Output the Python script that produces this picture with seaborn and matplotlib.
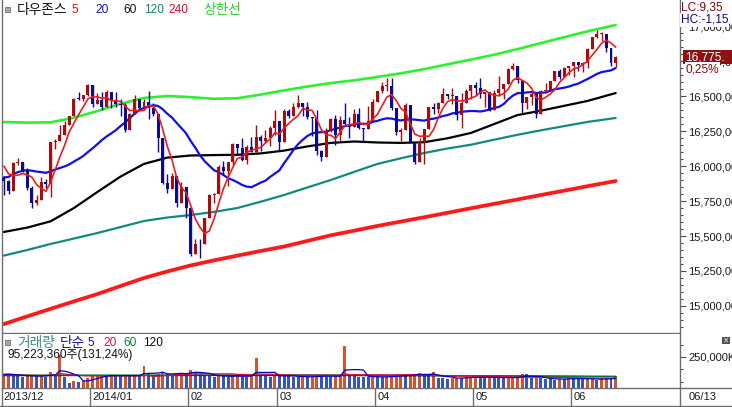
import numpy as np
import pandas as pd
import matplotlib
matplotlib.use("Agg")
import matplotlib.pyplot as plt
import seaborn as sns
from matplotlib.patches import Rectangle
from matplotlib.lines import Line2D
from matplotlib.ticker import MultipleLocator, FixedLocator, FuncFormatter

sns.set_theme(style="white")
plt.rcParams['font.family'] = ['Liberation Sans', 'Noto Sans CJK KR']

# ---------------- data ----------------
month_labels = ["2013/12", "2014/01", "02", "03", "04", "05", "06"]
month_start = [0, 19, 40, 59, 80, 101, 122]
last_date = "06/13"

opens = [15915, 15890, 15822, 16020, 16026, 15973, 15844, 15739, 15755, 15885, 15875, 16168, 16179, 16221, 16295, 16358, 16480, 16478, 16504,
         16577, 16441, 16470, 16425, 16531, 16463, 16445, 16437, 16258, 16374, 16482, 16417, 16459, 16414, 16373, 16197, 15879, 15838, 15929, 15739, 15849,
         15699, 15373, 15445, 15440, 15629, 15794, 15802, 15995, 15964, 16028, 16154, 16130, 16041, 16133, 16103, 16207, 16180, 16198, 16273,
         16322, 16168, 16396, 16360, 16422, 16453, 16419, 16351, 16340, 16109, 16066, 16247, 16336, 16222, 16331, 16303, 16277, 16368, 16269, 16264, 16323,
         16458, 16533, 16571, 16573, 16413, 16246, 16256, 16437, 16170, 16027, 16173, 16263, 16425, 16409, 16449, 16514, 16500, 16502, 16361, 16449, 16535,
         16581, 16559, 16513, 16531, 16401, 16519, 16551, 16583, 16695, 16715, 16614, 16447, 16491, 16512, 16374, 16533, 16543, 16606, 16676, 16633, 16699,
         16717, 16744, 16722, 16738, 16836, 16924, 16943, 16946, 16844, 16734]
highs = [15930, 15900, 16030, 16058, 16030, 15985, 15860, 15790, 15920, 15905, 16170, 16190, 16290, 16320, 16360, 16484, 16530, 16510, 16588,
         16577, 16518, 16532, 16545, 16531, 16529, 16480, 16450, 16378, 16505, 16482, 16480, 16539, 16453, 16373, 16197, 15941, 15950, 15929, 15886, 15849,
         15708, 15479, 15478, 15629, 15798, 15806, 16006, 16034, 16028, 16165, 16157, 16197, 16153, 16206, 16293, 16225, 16257, 16285, 16398,
         16322, 16406, 16406, 16450, 16505, 16453, 16460, 16351, 16403, 16117, 16275, 16341, 16364, 16354, 16452, 16350, 16404, 16414, 16271, 16428, 16478,
         16536, 16600, 16631, 16631, 16413, 16268, 16453, 16437, 16170, 16203, 16263, 16425, 16452, 16460, 16558, 16514, 16560, 16502, 16525, 16550, 16581,
         16598, 16632, 16531, 16531, 16545, 16645, 16584, 16701, 16736, 16715, 16614, 16491, 16531, 16512, 16543, 16590, 16610, 16676, 16695, 16706, 16717,
         16744, 16744, 16745, 16845, 16925, 16970, 16956, 16946, 16845, 16783]
lows = [15790, 15800, 15822, 16010, 15960, 15830, 15703, 15720, 15755, 15840, 15780, 16120, 16179, 16221, 16290, 16358, 16470, 16466, 16500,
        16420, 16440, 16400, 16425, 16416, 16421, 16356, 16245, 16258, 16374, 16408, 16398, 16334, 16355, 16103, 15873, 15805, 15838, 15707, 15739, 15632,
        15356, 15373, 15340, 15440, 15629, 15733, 15802, 15936, 15855, 16004, 16087, 16035, 16017, 16100, 16103, 16110, 16167, 16143, 16220,
        16104, 16168, 16340, 16360, 16412, 16357, 16335, 16212, 16082, 16034, 16066, 16240, 16151, 16169, 16290, 16198, 16277, 16262, 16174, 16264, 16323,
        16458, 16520, 16533, 16397, 16223, 16180, 16256, 16162, 16015, 16027, 16015, 16263, 16372, 16381, 16449, 16482, 16443, 16326, 16271, 16448, 16477,
        16508, 16486, 16424, 16392, 16401, 16503, 16480, 16583, 16683, 16592, 16377, 16404, 16437, 16344, 16374, 16520, 16543, 16606, 16625, 16633, 16651,
        16636, 16680, 16669, 16698, 16836, 16912, 16891, 16816, 16715, 16706]
closes = [15890, 15822, 16020, 16026, 15973, 15844, 15739, 15755, 15885, 15875, 16168, 16179, 16221, 16295, 16358, 16480, 16478, 16504, 16577,
          16441, 16470, 16425, 16531, 16463, 16445, 16437, 16258, 16374, 16482, 16417, 16459, 16414, 16373, 16197, 15879, 15838, 15929, 15739, 15849, 15699,
          15373, 15445, 15440, 15629, 15794, 15802, 15995, 15964, 16028, 16154, 16130, 16041, 16133, 16103, 16207, 16180, 16198, 16273, 16322,
          16168, 16396, 16360, 16422, 16453, 16419, 16351, 16340, 16109, 16066, 16247, 16336, 16222, 16331, 16303, 16277, 16368, 16269, 16264, 16323, 16458,
          16533, 16573, 16573, 16413, 16246, 16256, 16437, 16170, 16027, 16173, 16263, 16425, 16409, 16449, 16514, 16502, 16502, 16361, 16449, 16535, 16581,
          16559, 16513, 16531, 16401, 16519, 16551, 16583, 16695, 16715, 16614, 16447, 16491, 16512, 16374, 16533, 16543, 16606, 16676, 16633, 16699, 16717,
          16744, 16722, 16738, 16836, 16924, 16943, 16946, 16844, 16734, 16776]
# closes before the visible window (needed for the 5/20 day averages)
prior_closes = [15747, 15594, 15762, 15783, 15751, 15822, 15876, 15962, 15976, 15967,
                15901, 16010, 16065, 16073, 16073, 16097, 16086, 16009, 15915]

volumes_m = [110, 112, 105, 95, 92, 98, 100, 96, 100, 92, 130, 108, 265, 85, 42, 55, 48, 60, 78,
             95, 100, 104, 98, 102, 96, 94, 104, 100, 102, 96, 180, 112, 104, 110, 133, 112, 108, 116, 122, 118,
             145, 133, 110, 104, 98, 90, 100, 96, 92, 94, 100, 96, 92, 98, 242, 100, 95, 92, 104,
             102, 98, 94, 90, 88, 92, 90, 94, 100, 98, 92, 86, 96, 104, 339, 108, 96, 92, 90, 88, 94,
             90, 86, 92, 96, 100, 105, 98, 104, 112, 120, 100, 96, 130, 80, 78, 76, 80, 84, 82, 86, 88,
             90, 86, 84, 88, 86, 82, 80, 84, 86, 90, 112, 110, 78, 82, 80, 74, 70, 66, 76, 72, 82,
             78, 74, 70, 72, 76, 68, 72, 80, 73, 95]

line_idx = [0, 5, 10, 15, 20, 25, 30, 35, 40, 45, 50, 55, 60, 65, 70, 75, 80, 85, 90, 95, 100, 105, 110, 115, 120, 125, 131]
upper_band = [16314, 16310, 16312, 16345, 16392, 16445, 16486, 16500, 16492, 16480, 16484, 16510, 16540, 16568,
              16592, 16612, 16636, 16662, 16692, 16726, 16760, 16795, 16835, 16878, 16920, 16962, 17007]
ma60_line = [15529, 15560, 15605, 15700, 15814, 15925, 16015, 16060, 16075, 16078, 16080, 16090, 16110, 16140,
             16165, 16175, 16168, 16165, 16170, 16198, 16236, 16300, 16364, 16395, 16430, 16465, 16521]
ma120_line = [15360, 15400, 15443, 15482, 15521, 15564, 15607, 15632, 15650, 15672, 15700, 15745, 15793, 15847,
              15900, 15958, 16015, 16055, 16093, 16125, 16152, 16188, 16223, 16255, 16285, 16315, 16343]
ma240_line = [14871, 14926, 14980, 15033, 15085, 15143, 15200, 15247, 15290, 15326, 15360, 15393, 15425, 15465,
              15505, 15538, 15572, 15603, 15634, 15666, 15698, 15730, 15761, 15793, 15824, 15856, 15893]

vol_line_idx = [0, 33, 66, 99, 131]
vol_ma60 = [104, 104, 106, 100, 90]
vol_ma120 = [100, 101, 101, 98, 94]

# ---------------- figure ----------------
W, H = 732, 407
fig = plt.figure(figsize=(W / 100, H / 100), dpi=100)
fig.patch.set_facecolor("white")

def fx(x):
    return x / W

def fy(y):
    return 1 - y / H

def xi(x):
    return (x - 3.9) / 4.67

frame = "#6e6e6e"
ax = fig.add_axes([fx(2), fy(333), fx(680) - fx(2), fy(0) - fy(333)])
axv = fig.add_axes([fx(2), fy(388), fx(680) - fx(2), fy(334) - fy(388)])

n = len(closes)
idx = np.arange(n)
df = pd.DataFrame({"i": idx, "open": opens, "high": highs, "low": lows, "close": closes, "vol": volumes_m})

all_close = pd.Series(prior_closes + closes, dtype=float)
df["ma5"] = all_close.rolling(5).mean().iloc[len(prior_closes):].values
df["ma20"] = all_close.rolling(20).mean().iloc[len(prior_closes):].values

lines = pd.DataFrame({"i": line_idx, "upper": upper_band, "ma60": ma60_line,
                      "ma120": ma120_line, "ma240": ma240_line})

ymin = 15500 + (236 - 333) * 7.1429
ymax = 15500 + (236 - 0) * 7.1429
ax.set_xlim(xi(2), xi(680))
ax.set_ylim(ymin, ymax)

# moving average lines
sns.lineplot(data=lines, x="i", y="ma240", ax=ax, color="#ff1a1a", linewidth=2.7, zorder=2, estimator=None)
sns.lineplot(data=lines, x="i", y="ma120", ax=ax, color="#138a80", linewidth=1.6, zorder=2, estimator=None)
sns.lineplot(data=lines, x="i", y="ma60", ax=ax, color="#000000", linewidth=1.6, zorder=2, estimator=None)
sns.lineplot(data=lines, x="i", y="upper", ax=ax, color="#2ef02e", linewidth=1.9, zorder=2, estimator=None)
sns.lineplot(data=df, x="i", y="ma20", ax=ax, color="#1010ee", linewidth=1.6, zorder=2, estimator=None)

# candles
up = df["close"] >= df["open"]
red_c, blue_c = "#a80c0c", "#0a0a96"
colors = np.where(up, red_c, blue_c)
ax.vlines(df["i"], df["low"], df["high"], colors=colors, linewidth=1.0, zorder=3)
body_lo = np.minimum(df["open"], df["close"])
body_h = np.maximum(np.abs(df["close"] - df["open"]), 5)
ax.bar(df["i"], body_h, bottom=body_lo, width=0.64, color=colors, linewidth=0, zorder=3)

sns.lineplot(data=df, x="i", y="ma5", ax=ax, color="#ee1c1c", linewidth=1.2, zorder=4, estimator=None)

# price axis
ax.set_xticks([])
ax.set_xlabel("")
ax.set_ylabel("")
ax.yaxis.tick_right()
ax.yaxis.set_major_locator(FixedLocator(np.arange(15000, 17001, 250)))
ax.yaxis.set_minor_locator(MultipleLocator(50))
ax.yaxis.set_major_formatter(FuncFormatter(lambda v, p: f"{v:,.0f},00"))
ax.tick_params(axis="y", which="major", right=True, left=False, length=4.5, width=0.8,
               color="#505050", pad=1.5, labelsize=8, labelcolor="#1a1a1a", direction="out")
ax.tick_params(axis="y", which="minor", right=True, left=False, length=2.2, width=0.8,
               color="#505050", direction="out")
ax.spines["top"].set_visible(False)
for s in ["left", "right", "bottom"]:
    ax.spines[s].set_color(frame)
    ax.spines[s].set_linewidth(1.0)
ax.set_facecolor("white")

# volume panel
vcol = ["#d8502c"] + ["#d8502c" if volumes_m[k] >= volumes_m[k - 1] else "#3355c0" for k in range(1, n)]
axv.bar(df["i"], df["vol"], width=0.64, color=vcol, linewidth=0, zorder=2)
df["vma5"] = df["vol"].rolling(5, min_periods=1).mean()
df["vma20"] = df["vol"].rolling(20, min_periods=1).mean()
vl = pd.DataFrame({"i": vol_line_idx, "m60": vol_ma60, "m120": vol_ma120})
sns.lineplot(data=vl, x="i", y="m120", ax=axv, color="#000000", linewidth=0.9, zorder=3, estimator=None)
sns.lineplot(data=vl, x="i", y="m60", ax=axv, color="#0a7a40", linewidth=0.9, zorder=3, estimator=None)
sns.lineplot(data=df, x="i", y="vma20", ax=axv, color="#e0103a", linewidth=0.9, zorder=3, estimator=None)
sns.lineplot(data=df, x="i", y="vma5", ax=axv, color="#0000c8", linewidth=0.9, zorder=3, estimator=None)
axv.set_xlim(xi(2), xi(680))
axv.set_ylim(0, 54 * 250 / 31)
axv.set_xticks([])
axv.set_xlabel("")
axv.set_ylabel("")
axv.yaxis.tick_right()
axv.yaxis.set_major_locator(FixedLocator([250]))
axv.yaxis.set_minor_locator(FixedLocator([50, 150, 350]))
axv.yaxis.set_major_formatter(FuncFormatter(lambda v, p: f"{v * 1000:,.0f}K"))
axv.tick_params(axis="y", which="major", right=True, left=False, length=4.5, width=0.8,
                color="#505050", pad=1.5, labelsize=8, labelcolor="#1a1a1a", direction="out")
axv.tick_params(axis="y", which="minor", right=True, left=False, length=2.2, width=0.8,
                color="#505050", direction="out")
axv.spines["top"].set_visible(False)
for s in ["left", "right", "bottom"]:
    axv.spines[s].set_color(frame)
    axv.spines[s].set_linewidth(1.0)

# ---------------- frame lines / date row ----------------
def fline(x0, y0, x1, y1, c=frame, lw=1.0):
    fig.add_artist(Line2D([fx(x0), fx(x1)], [fy(y0), fy(y1)], color=c, linewidth=lw))

fline(2, 388, 2, 406)
fline(680, 388, 680, 406)
fline(0, 405.5, W, 405.5)
fline(680, 388, W, 388)
for k, m in enumerate(month_start):
    xs = 3.9 + 4.67 * (m - 0.55)
    if k > 0:
        fline(xs, 388, xs, 405)
    fig.text(fx(max(xs, 1) + 2.5), fy(397), month_labels[k], fontsize=8, color="#1a1a1a",
             ha="left", va="center")
fig.text(fx(689), fy(397), last_date, fontsize=8, color="#1a1a1a", ha="left", va="center")

# ---------------- headers ----------------
def square(x, y):
    fig.add_artist(Rectangle((fx(x), fy(y + 5)), 5 / W, 5 / H, facecolor="#a8a8a8",
                             edgecolor="#707070", linewidth=0.6))

square(5, 7)
hdr = [(17, "다우존스", "#111111", 9.9), (72, "5", "#d01010", 8.6), (95, "20", "#1010b0", 8.6),
       (123, "60", "#111111", 8.6), (144, "120", "#108080", 8.6), (168, "240", "#d01030", 8.6),
       (203, "상한선", "#30d030", 9.9)]
for x, t, c, fs in hdr:
    fig.text(fx(x), fy(10), t, fontsize=fs, color=c, ha="left", va="center")

square(5, 340)
vhdr = [(17, "거래량", "#3c8a8a", 9.9), (60, "단순", "#1010b0", 9.9), (88, "5", "#1010b0", 8.6),
        (103, "20", "#d01040", 8.6), (123, "60", "#108040", 8.6), (143, "120", "#111111", 8.6)]
for x, t, c, fs in vhdr:
    fig.text(fx(x), fy(343), t, fontsize=fs, color=c, ha="left", va="center")
fig.text(fx(7), fy(355), "95,223,360주(131,24%)", fontsize=8.6, color="#111111", ha="left", va="center")

# ---------------- right side info ----------------
fig.text(fx(681), fy(8), "LC:9,35", fontsize=8.6, color="#7a0a0a", ha="left", va="center",
         bbox=dict(facecolor="white", edgecolor="none", pad=0.3))
fig.text(fx(681), fy(20), "HC:-1,15", fontsize=8.6, color="#0a0a7a", ha="left", va="center",
         bbox=dict(facecolor="white", edgecolor="none", pad=0.6))
fig.add_artist(Rectangle((fx(683), fy(64)), 49 / W, 14 / H, facecolor="#8e1212", edgecolor="none", zorder=5))
fig.text(fx(685), fy(57), "16,775.", fontsize=8.6, color="white", ha="left", va="center", zorder=6)
fig.text(fx(686), fy(69), "0,25%", fontsize=8.6, color="#7a0a0a", ha="left", va="center", zorder=6,
         bbox=dict(facecolor="white", edgecolor="none", pad=0.4))

fig.add_artist(Rectangle((fx(722), fy(344)), 8 / W, 7 / H, facecolor="#505050", edgecolor="none"))
fig.text(fx(726), fy(340.5), "×", fontsize=5.5, color="white", ha="center", va="center",
         family=["DejaVu Sans"])

fig.savefig("out.png", dpi=100)
